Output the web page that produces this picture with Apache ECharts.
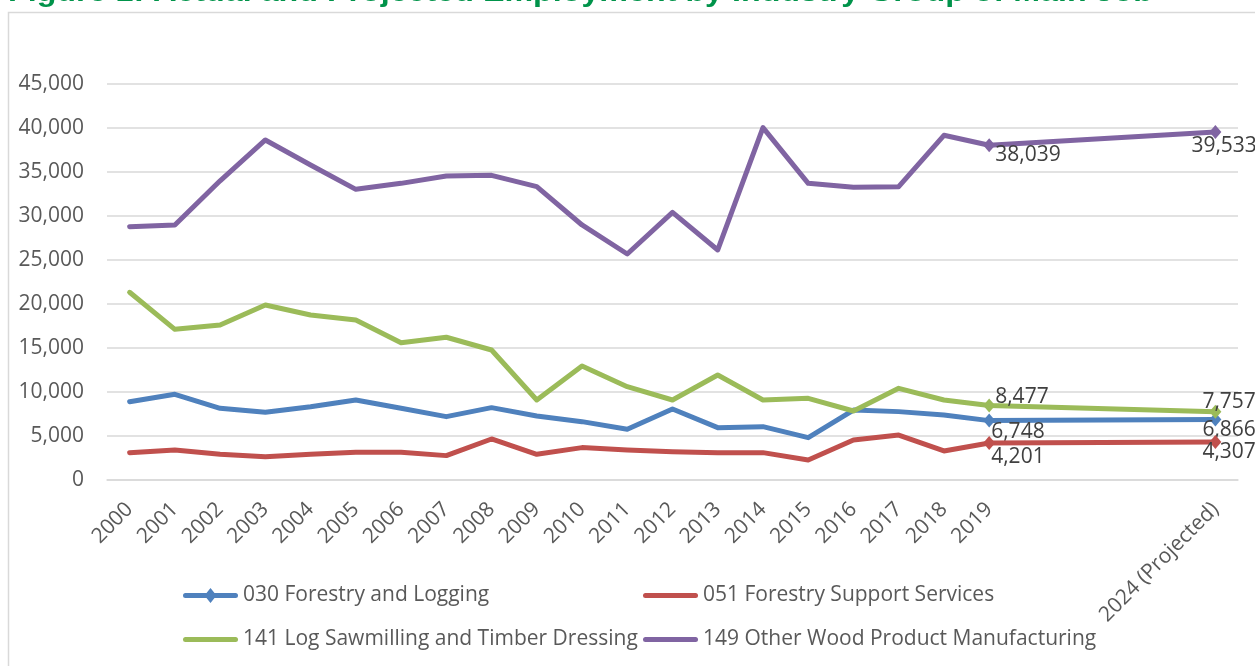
<!DOCTYPE html>
<html>
<head>
<meta charset="utf-8">
<script src="https://cdn.jsdelivr.net/npm/echarts@6/dist/echarts.min.js"></script>
<style>
html,body{margin:0;padding:0;background:#fff;}
#chart{width:1255px;height:666px;}
</style>
</head>
<body>
<div id="chart"></div>
<script>
// ---- data ----
const categories = ['2000','2001','2002','2003','2004','2005','2006','2007','2008','2009',
  '2010','2011','2012','2013','2014','2015','2016','2017','2018','2019',
  '2020','2021','2022','2023','2024 (Projected)'];
const shownLabels = ['2000','2001','2002','2003','2004','2005','2006','2007','2008','2009',
  '2010','2011','2012','2013','2014','2015','2016','2017','2018','2019','2024 (Projected)'];
const seriesNames = ['030 Forestry and Logging','051 Forestry Support Services',
  '141 Log Sawmilling and Timber Dressing','149 Other Wood Product Manufacturing'];
const forestryLogging = [8900,9740,8150,7690,8330,9090,8150,7200,8220,7270,
  6630,5760,8070,5950,6060,4810,7950,7770,7390,6748, null,null,null,null, 6866];
const forestrySupport = [3110,3410,2920,2650,2920,3140,3160,2770,4660,2920,
  3680,3410,3220,3110,3110,2270,4550,5110,3300,4201, null,null,null,null, 4307];
const logSawmilling = [21330,17120,17610,19890,18750,18180,15600,16220,14770,9090,
  12950,10600,9090,11930,9090,9280,7840,10420,9090,8477, null,null,null,null, 7757];
const otherWood = [28790,28980,34000,38640,35800,33030,33710,34550,34620,33330,
  28980,25680,30420,26140,40040,33710,33260,33330,39170,38039, null,null,null,null, 39533];
const labelledPoints = [19, 24];
const yTicks = [0,5000,10000,15000,20000,25000,30000,35000,40000,45000];
const titleText = 'Figure 1: Actual and Projected Employment by Industry Group of Main Job';

// ---- styles ----
const colors = ['#4F81BD','#C0504D','#9BBB59','#8064A2'];
const labelOffsets = [
  {19:[-4,11], 24:[-19,10]},
  {19:[-4,14], 24:[-19,10]},
  {19:[0,-8], 24:[-19,-10]},
  {19:[0,10], 24:[-30,14]}
];
const FONT = '"Open Sans", "Noto Sans", sans-serif';
const ICON_LINE_DIAMOND = 'path://M2.5,5 L52.5,5 A2.5,2.5 0 0 1 52.5,10 L2.5,10 A2.5,2.5 0 0 1 2.5,5 Z M27.5,0 L33.5,7.5 L27.5,15 L21.5,7.5 Z';
const ICON_LINE = 'path://M2.5,0 L52.5,0 A2.5,2.5 0 0 1 52.5,5 L2.5,5 A2.5,2.5 0 0 1 2.5,0 Z';

function fmt(v){ return String(v).replace(/\B(?=(\d{3})+(?!\d))/g, ','); }

function buildData(values, sIdx){
  return values.map((v, i) => {
    if (labelledPoints.indexOf(i) >= 0 && v != null) {
      return {
        value: v, symbol: 'diamond', symbolSize: [12, 14],
        label: {
          show: true, position: 'right', distance: 0,
          offset: labelOffsets[sIdx][i],
          formatter: p => fmt(p.value),
          fontFamily: FONT, fontSize: 21, color: '#404040'
        }
      };
    }
    return { value: v, symbol: 'none' };
  });
}

const allValues = [forestryLogging, forestrySupport, logSawmilling, otherWood];

// title width fit
const TITLE_FONT = 'bold 27px "Liberation Sans", Arial, sans-serif';
const mctx = document.createElement('canvas').getContext('2d');
mctx.font = TITLE_FONT;
const titleScale = 1145 / mctx.measureText(titleText).width;

function legendItem(i){
  return { name: seriesNames[i], icon: i === 0 ? ICON_LINE_DIAMOND : ICON_LINE };
}

const legendBase = {
  orient: 'vertical', top: 585, padding: 0, itemWidth: 55, itemHeight: 15, itemGap: 23,
  symbolKeepAspect: true,
  textStyle: {fontFamily: FONT, fontSize: 21, color: '#595959'}
};

const chart = echarts.init(document.getElementById('chart'), null, {renderer:'canvas'});
chart.setOption({
  animation: false,
  backgroundColor: '#ffffff',
  graphic: [
    { type: 'rect', shape: {x: 8.5, y: 12.5, width: 1300, height: 700},
      style: {fill: 'none', stroke: '#d9d9d9', lineWidth: 1.5}, silent: true },
    { type: 'text', x: 8, y: -19.5, scaleX: titleScale, silent: true,
      style: { text: titleText, font: TITLE_FONT, fill: '#00934A' } }
  ],
  grid: { left: 107, right: 17, top: 84, bottom: 186 },
  xAxis: {
    type: 'category', data: categories, boundaryGap: true,
    axisLine: { show: true, lineStyle: {color: '#d9d9d9', width: 1.5} },
    axisTick: { show: false },
    axisLabel: {
      interval: 0, rotate: 45, margin: 26,
      fontFamily: FONT, fontSize: 21, color: '#595959',
      formatter: v => shownLabels.indexOf(v) >= 0 ? v : ''
    }
  },
  yAxis: {
    type: 'value', min: yTicks[0], max: yTicks[yTicks.length-1], interval: 5000,
    axisLine: { show: false }, axisTick: { show: false },
    axisLabel: { margin: 23, fontFamily: FONT, fontSize: 21, color: '#595959', formatter: v => fmt(v) },
    splitLine: { lineStyle: { color: '#d9d9d9', width: 1.5 } }
  },
  legend: [
    Object.assign({}, legendBase, { left: 183, data: [legendItem(0), legendItem(2)] }),
    Object.assign({}, legendBase, { left: 643, data: [legendItem(1), legendItem(3)] })
  ],
  series: allValues.map((vals, s) => ({
    name: seriesNames[s], type: 'line',
    data: buildData(vals, s),
    symbol: 'none',
    symbolSize: [12, 14],
    showSymbol: true, connectNulls: true,
    color: colors[s],
    lineStyle: { width: 5, color: colors[s], cap: 'round', join: 'round' },
    itemStyle: { color: colors[s] },
    z: 2 + s
  }))
});
</script>
</body>
</html>
